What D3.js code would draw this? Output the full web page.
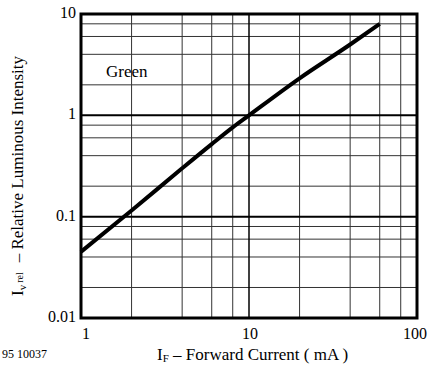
<!DOCTYPE html>
<html>
<head>
<meta charset="utf-8">
<script src="https://cdn.jsdelivr.net/npm/d3@7"></script>
<style>
  body { margin: 0; background: #fff; }
  text { font-family: "Liberation Serif", "DejaVu Serif", serif; fill: #000; }
</style>
</head>
<body>
<svg id="chart" width="431" height="379"></svg>
<script>
// forward current (mA) vs relative luminous intensity
let currentMA = [1, 2, 4, 6, 8, 10, 20, 40, 60];
let relIntensity = [0.045, 0.115, 0.3, 0.52, 0.76, 1.0, 2.32, 5.0, 8.0];

let xTicks = [1, 10, 100];
let yTicks = [0.01, 0.1, 1, 10];
let minorSteps = [2, 4, 6, 8];

let svg = d3.select("#chart");
let pLeft = 81, pRight = 417, pTop = 14, pBottom = 318;

let x = d3.scaleLog().domain([1, 100]).range([pLeft, pRight]);
let y = d3.scaleLog().domain([0.01, 10]).range([pBottom, pTop]);

// minor grid
let xMinor = [], yMinor = [];
[1, 10].forEach(d => minorSteps.forEach(s => xMinor.push(d * s)));
[0.01, 0.1, 1].forEach(d => minorSteps.forEach(s => yMinor.push(d * s)));

let grid = svg.append("g");
grid.selectAll(".vminor")
    .data(xMinor)
    .join("line")
    .attr("x1", d => x(d)).attr("x2", d => x(d))
    .attr("y1", pTop).attr("y2", pBottom)
    .attr("stroke", "#333").attr("stroke-width", 1);
grid.selectAll(".hminor")
    .data(yMinor)
    .join("line")
    .attr("y1", d => y(d)).attr("y2", d => y(d))
    .attr("x1", pLeft).attr("x2", pRight)
    .attr("stroke", "#333").attr("stroke-width", 1);

// major grid
grid.selectAll(".vmajor")
    .data([10])
    .join("line")
    .attr("x1", d => x(d)).attr("x2", d => x(d))
    .attr("y1", pTop).attr("y2", pBottom)
    .attr("stroke", "#000").attr("stroke-width", 1.5);
grid.selectAll(".hmajor")
    .data([0.1, 1])
    .join("line")
    .attr("y1", d => y(d)).attr("y2", d => y(d))
    .attr("x1", pLeft).attr("x2", pRight)
    .attr("stroke", "#000").attr("stroke-width", 2);

// frame
svg.append("rect")
    .attr("x", pLeft).attr("y", pTop)
    .attr("width", pRight - pLeft).attr("height", pBottom - pTop)
    .attr("fill", "none").attr("stroke", "#000").attr("stroke-width", 3);

// curve
let line = d3.line()
    .x((d, i) => x(currentMA[i]))
    .y(d => y(d))
    .curve(d3.curveMonotoneX);

svg.append("path")
    .datum(relIntensity)
    .attr("d", line)
    .attr("fill", "none")
    .attr("stroke", "#000")
    .attr("stroke-width", 4);

// tick labels
let xShift = [5, 1, -2];
svg.selectAll(".xlab")
    .data(xTicks)
    .join("text")
    .attr("x", (d, i) => x(d) + xShift[i])
    .attr("y", 339)
    .attr("text-anchor", "middle")
    .attr("font-size", 16)
    .text(d => d);

svg.selectAll(".ylab")
    .data(yTicks)
    .join("text")
    .attr("x", 76)
    .attr("y", d => y(d) + 4)
    .attr("text-anchor", "end")
    .attr("font-size", 16)
    .text(d => d);

svg.append("text")
    .attr("x", 106).attr("y", 77)
    .attr("font-size", 17)
    .text("Green");

// axis titles
let xt = svg.append("text")
    .attr("x", 157).attr("y", 360)
    .attr("font-size", 17);
xt.append("tspan").text("I");
xt.append("tspan").attr("font-size", 11).attr("dy", 2).text("F");
xt.append("tspan").attr("dy", -2).text(" – Forward Current ( mA )");

let yt = svg.append("text")
    .attr("transform", "translate(23,296) rotate(-90)")
    .attr("font-size", 17);
yt.append("tspan").text("I");
yt.append("tspan").attr("font-size", 11).attr("dy", 3).text("v");
yt.append("tspan").attr("font-size", 10).attr("dy", -3).attr("dx", 2).text("rel");
yt.append("tspan").attr("dx", 10).text("– Relative Luminous Intensity");

svg.append("text")
    .attr("x", 2).attr("y", 358)
    .attr("font-size", 12)
    .attr("font-family", "Liberation Sans, Arial, sans-serif")
    .text("95 10037");
</script>
</body>
</html>
